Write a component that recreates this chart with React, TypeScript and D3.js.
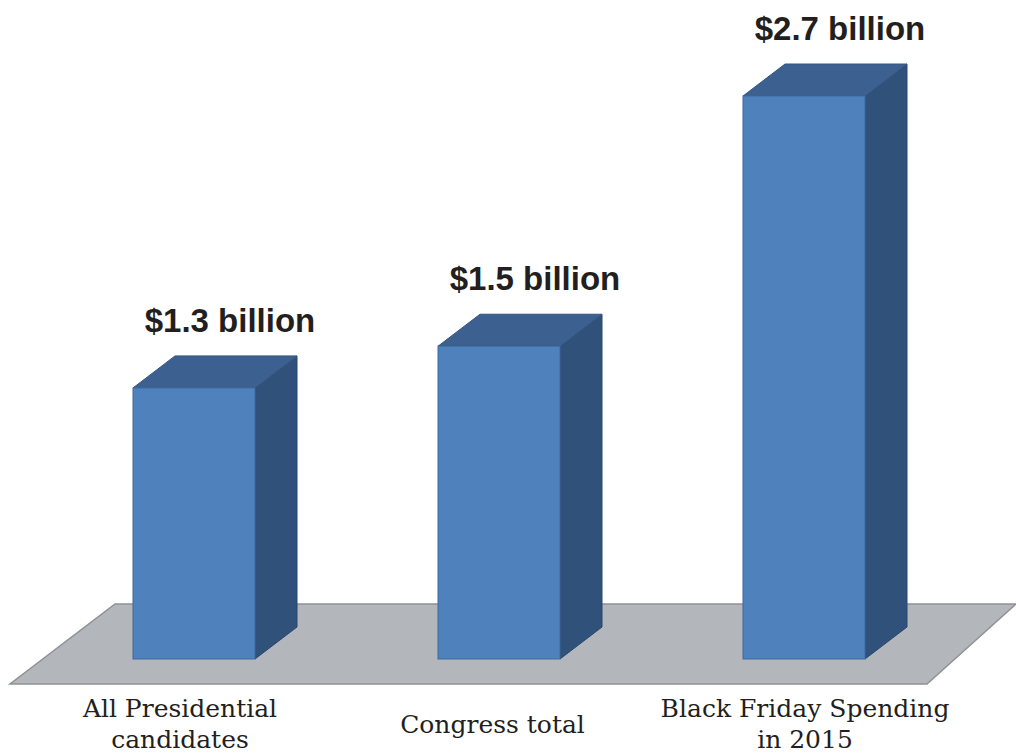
import React from "react";
import * as d3 from "d3";

const categories: string[][] = [
  ["All Presidential", "candidates"],
  ["Congress total"],
  ["Black Friday Spending", "in 2015"],
];
const values: number[] = [1.3, 1.5, 2.7];
const valueLabels: string[] = ["$1.3 billion", "$1.5 billion", "$2.7 billion"];

const W = 1016;
const H = 754;
const baseY = 659;
const depthX = 42;
const depthY = 32;

export default function App() {
  const keys = categories.map((_, i) => String(i));
  const x = d3.scaleBand<string>().domain(keys).range([133, 865]).paddingInner(0.6).paddingOuter(0);
  const y = d3.scaleLinear().domain([0, 2.7]).range([baseY, 96]);
  const labelX = d3.scalePoint<string>().domain(keys).range([180, 805]);

  const floor = [
    [10, 684],
    [927, 684],
    [1016, 604],
    [115, 604],
  ];

  return (
    <svg width={W} height={H} style={{ position: "absolute", left: 0, top: 0, background: "#fff" }}>
      <polygon
        points={floor.map((p) => p.join(",")).join(" ")}
        fill="#b3b6ba"
        stroke="#8e9195"
        strokeWidth={1.5}
      />
      {values.map((v, i) => {
        const x0 = x(String(i))!;
        const bw = x.bandwidth();
        const x1 = x0 + bw;
        const yt = y(v);
        const top = `${x0},${yt} ${x1},${yt} ${x1 + depthX},${yt - depthY} ${x0 + depthX},${yt - depthY}`;
        const side = `${x1},${yt} ${x1 + depthX},${yt - depthY} ${x1 + depthX},${baseY - depthY} ${x1},${baseY}`;
        return (
          <g key={i}>
            <polygon points={side} fill="#30517a" stroke="#2a4770" strokeWidth={1} />
            <polygon points={top} fill="#3c6190" stroke="#345683" strokeWidth={1} />
            <rect x={x0} y={yt} width={bw} height={baseY - yt} fill="#4f81bd" stroke="#3f6b9e" strokeWidth={1} />
            <text
              x={x0 + bw / 2 + 36}
              y={yt - depthY - 24}
              textAnchor="middle"
              fontFamily="'Liberation Sans', Arial, sans-serif"
              fontWeight="bold"
              fontSize={33}
              fill="#231f20"
            >
              {valueLabels[i]}
            </text>
          </g>
        );
      })}
      {categories.map((lines, i) => {
        const cx = labelX(String(i))!;
        const startY = lines.length === 1 ? 733 : 717;
        return (
          <text
            key={i}
            textAnchor="middle"
            fontFamily="'DejaVu Serif', Georgia, serif"
            fontSize={25}
            fill="#231f20"
          >
            {lines.map((l, j) => (
              <tspan key={j} x={cx} y={startY + j * 31}>
                {l}
              </tspan>
            ))}
          </text>
        );
      })}
    </svg>
  );
}
